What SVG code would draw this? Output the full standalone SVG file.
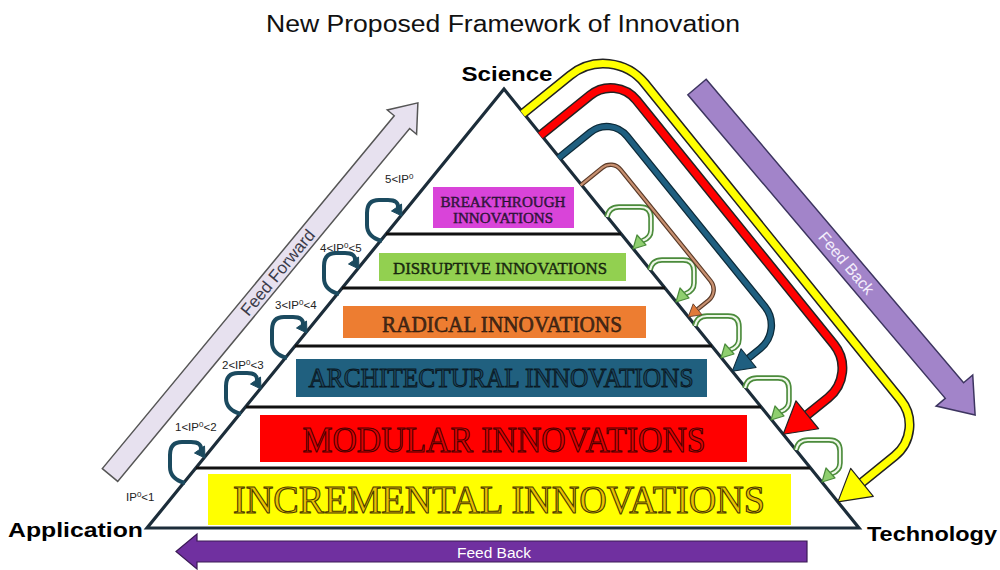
<svg xmlns="http://www.w3.org/2000/svg" xmlns:xlink="http://www.w3.org/1999/xlink" width="1000" height="570" viewBox="0 0 1000 570">
  <style>
    .title { font-family: "Liberation Sans", Arial, sans-serif; font-size: 23px; fill: #111; }
    .corner { font-family: "Liberation Sans", Arial, sans-serif; font-weight: bold; font-size: 21px; fill: #000; }
    .lvl { font-family: "Liberation Serif", "Times New Roman", serif; text-anchor: middle; }
    .ip { font-family: "Liberation Sans", Arial, sans-serif; font-size: 11.5px; fill: #222; }
    .edge { stroke: #111; stroke-width: 3; }
    .under { fill: none; stroke-linejoin: round; }
    .loopL { fill: none; stroke: #1b4a5f; stroke-width: 4; stroke-linecap: butt; }
    .headL { fill: #1b4a5f; stroke: #1b4a5f; stroke-width: 1; stroke-linejoin: round; }
    .loopG { fill: none; stroke: #4b8b3b; stroke-width: 5.5; }
    .loopGin { fill: none; stroke: #eef7e8; stroke-width: 2.2; }
    .headG { fill: #8fcf6f; stroke: #4b8b3b; stroke-width: 1.2; stroke-linejoin: round; }
  </style>

  <defs>
    <!-- step-up loop, origin at its start point on the left edge -->
    <g id="step-left">
      <path class="loopL" d="M1,1 Q-14,-3 -14,-15 L-14,-27 Q-14,-40 -2,-40 L7,-40 Q18,-40 17,-32"/>
      <polygon class="headL" points="21,-24 20.5,-36 10.5,-29"/>
    </g>
    <!-- level-to-level return loop, origin at its start point on the right edge -->
    <g id="step-right">
      <path class="loopG" d="M0,0 Q2,-10 12,-10 L33,-10 Q44,-10 44,1 L44,13 Q44,21 35,24"/>
      <path class="loopGin" d="M0,0 Q2,-10 12,-10 L33,-10 Q44,-10 44,1 L44,13 Q44,21 35,24"/>
      <polygon class="headG" points="26,32 39,28 30,18"/>
    </g>
  </defs>

  <!-- heading -->
  <text class="title" x="503" y="32" text-anchor="middle" textLength="474" lengthAdjust="spacingAndGlyphs">New Proposed Framework of Innovation</text>

  <!-- feed forward arrow (left side) -->
  <g id="feed-forward" transform="translate(110,475) rotate(-50.4)">
    <polygon points="0,-10 458,-10 458,-19 483,0 458,19 458,10 0,10" fill="#e7e1ef" stroke="#555" stroke-width="1.5"/>
    <text x="263" y="6" text-anchor="middle" font-family="'Liberation Sans', Arial, sans-serif" font-size="17" fill="#3a3a48">Feed Forward</text>
  </g>

  <!-- feed back arrow (right side) -->
  <g id="feed-back-diagonal" transform="translate(697,87) rotate(49.7)">
    <polygon points="0,-12 398,-12 398,-24 430,0 398,24 398,12 0,12" fill="#a284c9" stroke="#3d3560" stroke-width="1.5"/>
    <text x="231" y="5.5" text-anchor="middle" font-family="'Liberation Sans', Arial, sans-serif" font-size="16" fill="#f4eefc">Feed Back</text>
  </g>

  <!-- feed back arrow (bottom) -->
  <g id="feed-back-bottom">
    <polygon points="176,551.5 197,534 197,541 807,541 807,562 197,562 197,569" fill="#7030a0" stroke="#3a1a55" stroke-width="1.2"/>
    <text x="494" y="558" text-anchor="middle" font-family="'Liberation Sans', Arial, sans-serif" font-size="15.5" fill="#fff">Feed Back</text>
  </g>

  <!-- pyramid outline and layer dividers -->
  <g id="pyramid">
    <polygon points="504,89 859,528 147,528" fill="#fff" stroke="#1c2d3a" stroke-width="3.2" stroke-linejoin="miter"/>
    <line class="edge" x1="386" y1="234" x2="621" y2="234"/>
    <line class="edge" x1="342" y1="288" x2="665" y2="288"/>
    <line class="edge" x1="295" y1="346" x2="712" y2="346"/>
    <line class="edge" x1="246" y1="407" x2="761" y2="407"/>
    <line class="edge" x1="196" y1="468" x2="810" y2="468"/>
  </g>

  <!-- layers -->
  <g id="breakthrough">
    <rect x="433" y="187" width="141" height="41" fill="#d944d9"/>
    <text class="lvl" x="503" y="207" font-size="15" textLength="125" lengthAdjust="spacingAndGlyphs" fill="#3a1a48" stroke="#1e0e28" stroke-width="0.4">BREAKTHROUGH</text>
    <text class="lvl" x="503" y="223" font-size="15" textLength="100" lengthAdjust="spacingAndGlyphs" fill="#3a1a48" stroke="#1e0e28" stroke-width="0.4">INNOVATIONS</text>
  </g>
  <g id="disruptive">
    <rect x="379" y="253" width="247" height="28" fill="#92d050"/>
    <text class="lvl" x="500" y="274" font-size="17" textLength="214" lengthAdjust="spacingAndGlyphs" fill="#1e2e14" stroke="#0e1a08" stroke-width="0.4">DISRUPTIVE INNOVATIONS</text>
  </g>
  <g id="radical">
    <rect x="343" y="306" width="303" height="32" fill="#ed7d31"/>
    <text class="lvl" x="502" y="332" font-size="23" textLength="240" lengthAdjust="spacingAndGlyphs" fill="#4a2a18" stroke="#24140a" stroke-width="0.5">RADICAL INNOVATIONS</text>
  </g>
  <g id="architectural">
    <rect x="296" y="359" width="411" height="38" fill="#20607f"/>
    <text class="lvl" x="501" y="387" font-size="28" textLength="385" lengthAdjust="spacingAndGlyphs" fill="#1c4a64" stroke="#0a1822" stroke-width="1">ARCHITECTURAL INNOVATIONS</text>
  </g>
  <g id="modular">
    <rect x="260" y="415" width="487" height="47" fill="#ff0000"/>
    <text class="lvl" x="504" y="452" font-size="35" textLength="403" lengthAdjust="spacingAndGlyphs" fill="#e00000" stroke="#4a0000" stroke-width="1.1">MODULAR INNOVATIONS</text>
  </g>
  <g id="incremental">
    <rect x="208" y="474" width="583" height="51" fill="#ffff00"/>
    <text class="lvl" x="499" y="513" font-size="39" textLength="532" lengthAdjust="spacingAndGlyphs" fill="#e9c200" stroke="#4a3800" stroke-width="1.1">INCREMENTAL INNOVATIONS</text>
  </g>

  <!-- vertex labels -->
  <text id="science" class="corner" x="507" y="81" text-anchor="middle" textLength="91" lengthAdjust="spacingAndGlyphs">Science</text>
  <text id="application" class="corner" x="8" y="537" textLength="135" lengthAdjust="spacingAndGlyphs">Application</text>
  <text id="technology" class="corner" x="867" y="541" textLength="130" lengthAdjust="spacingAndGlyphs">Technology</text>

  <!-- threshold labels along the left edge -->
  <g id="thresholds">
    <text class="ip" x="126" y="501">IP<tspan dy="-4" font-size="8">0</tspan><tspan dy="4">&lt;1</tspan></text>
    <text class="ip" x="175" y="431">1&lt;IP<tspan dy="-4" font-size="8">0</tspan><tspan dy="4">&lt;2</tspan></text>
    <text class="ip" x="222" y="369">2&lt;IP<tspan dy="-4" font-size="8">0</tspan><tspan dy="4">&lt;3</tspan></text>
    <text class="ip" x="275" y="309">3&lt;IP<tspan dy="-4" font-size="8">0</tspan><tspan dy="4">&lt;4</tspan></text>
    <text class="ip" x="320" y="252">4&lt;IP<tspan dy="-4" font-size="8">0</tspan><tspan dy="4">&lt;5</tspan></text>
    <text class="ip" x="385" y="183">5&lt;IP<tspan dy="-4" font-size="8">0</tspan></text>
  </g>

  <g id="connectors">
    <!-- step-up loops on the left edge -->
    <use xlink:href="#step-left" href="#step-left" x="184" y="482"/>
    <use xlink:href="#step-left" href="#step-left" x="240" y="413"/>
    <use xlink:href="#step-left" href="#step-left" x="286" y="357"/>
    <use xlink:href="#step-left" href="#step-left" x="338" y="293"/>
    <use xlink:href="#step-left" href="#step-left" x="381" y="240"/>

    <!-- level-to-level returns on the right edge -->
    <use xlink:href="#step-right" href="#step-right" x="607" y="217"/>
    <use xlink:href="#step-right" href="#step-right" x="650" y="270"/>
    <use xlink:href="#step-right" href="#step-right" x="695" y="326"/>
    <use xlink:href="#step-right" href="#step-right" x="745" y="388"/>
    <use xlink:href="#step-right" href="#step-right" x="796" y="450"/>

    <!-- feedback returns on the right edge (local frame: x down the edge, -y outward) -->
    <g transform="translate(504,89) rotate(51.04)">
      <!-- yellow -->
      <path class="under" stroke="#222" stroke-width="10" d="M31,0 L31,-60 A53,53 0 0 1 84,-113 L491,-113 A40,40 0 0 1 531,-73 L531,-28"/>
      <path class="under" stroke="#ffff00" stroke-width="7" d="M31,1 L31,-60 A53,53 0 0 1 84,-113 L491,-113 A40,40 0 0 1 531,-73 L531,-27"/>
      <polygon points="531,0 513,-31 549,-31" fill="#ffff00" stroke="#222" stroke-width="1.2" stroke-linejoin="round"/>
      <!-- red -->
      <path class="under" stroke="#222" stroke-width="10" d="M59,0 L59,-63 A33,33 0 0 1 92,-96 L406,-96 A38,38 0 0 1 444,-58 L444,-28"/>
      <path class="under" stroke="#ff0000" stroke-width="7" d="M59,1 L59,-63 A33,33 0 0 1 92,-96 L406,-96 A38,38 0 0 1 444,-58 L444,-27"/>
      <polygon points="444,0 426,-31 462,-31" fill="#ff0000" stroke="#222" stroke-width="1.2" stroke-linejoin="round"/>
      <!-- blue -->
      <path class="under" stroke="#0d2a38" stroke-width="7.5" d="M88,0 L88,-40 A26,26 0 0 1 114,-66 L333,-66 A30,30 0 0 1 363,-36 L363,-18"/>
      <path class="under" stroke="#1f5f80" stroke-width="5" d="M88,1 L88,-40 A26,26 0 0 1 114,-66 L333,-66 A30,30 0 0 1 363,-36 L363,-17"/>
      <polygon points="363,0 351,-21 375,-21" fill="#1f5f80" stroke="#0d2a38" stroke-width="1" stroke-linejoin="round"/>
      <!-- brown -->
      <path class="under" stroke="#5a3a28" stroke-width="4.5" d="M123,0 L123,-27 A13,13 0 0 1 136,-40 L279,-40 A14,14 0 0 1 293,-26 L293,-10"/>
      <path class="under" stroke="#c89070" stroke-width="2.2" d="M123,1 L123,-27 A13,13 0 0 1 136,-40 L279,-40 A14,14 0 0 1 293,-26 L293,-9"/>
      <polygon points="293,0 286,-12 300,-12" fill="#e07a3a" stroke="#5a3a28" stroke-width="0.8"/>
    </g>
  </g>
</svg>
